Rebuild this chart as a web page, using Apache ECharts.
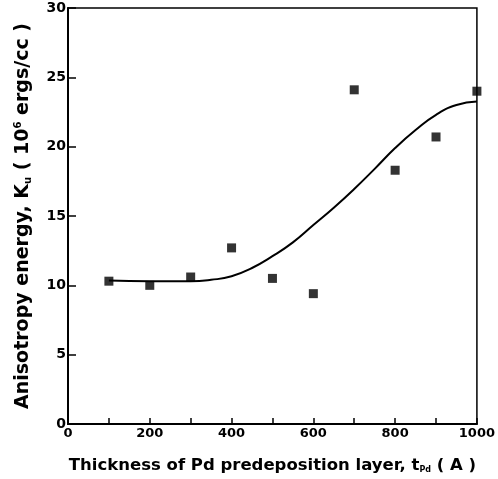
<!DOCTYPE html>
<html><head><meta charset="utf-8">
<script src="https://cdn.jsdelivr.net/npm/echarts@6/dist/echarts.min.js"></script>
<style>html,body{margin:0;padding:0;background:#fff}#c{width:498px;height:479px}</style>
</head><body><div id="c"></div>
<script>
const thickness = [100, 200, 300, 400, 500, 600, 700, 800, 900, 1000];
const anisotropy = [10.3, 10.0, 10.6, 12.7, 10.5, 9.4, 24.1, 18.3, 20.7, 24.0];
const fitX = [100, 200, 300, 350, 400, 450, 500, 550, 600, 650, 700, 750, 800, 850, 900, 950, 1000];
const fitY = [10.35, 10.3, 10.3, 10.4, 10.65, 11.25, 12.1, 13.1, 14.35, 15.6, 16.95, 18.4, 19.9, 21.2, 22.3, 23.0, 23.25];
const xLabels = [0, 200, 400, 600, 800, 1000];
const yLabels = [0, 5, 10, 15, 20, 25, 30];

const chart = echarts.init(document.getElementById('c'));
const font = 'DejaVu Sans';
chart.setOption({
  animation: false,
  grid: {left: 68, right: 21, top: 8, bottom: 55, show: true, borderColor: '#000', borderWidth: 1.5},
  xAxis: {
    type: 'value', min: 0, max: 1000, interval: 100,
    axisLine: {lineStyle: {color: '#000', width: 2}},
    axisTick: {inside: true, length: 6, lineStyle: {color: '#000', width: 1.5}},
    splitLine: {show: false},
    axisLabel: {color: '#000', fontFamily: font, fontWeight: 'bold', fontSize: 13, margin: 3,
      formatter: v => xLabels.indexOf(v) >= 0 ? String(v) : ''},
    name: 'Thickness of Pd predeposition layer, {i|t}{s|Pd} ( A )',
    nameLocation: 'middle', nameGap: 33,
    nameTextStyle: {color: '#000', fontFamily: font, fontWeight: 'bold', fontSize: 16.5,
      rich: {i: {fontFamily: font, fontWeight: 'bold', fontSize: 16.5, color: '#000'},
             s: {fontFamily: font, fontWeight: 'bold', fontSize: 8, color: '#000', padding: [8, 0, 0, 0]}}}
  },
  yAxis: {
    type: 'value', min: 0, max: 30, interval: 5,
    axisLine: {lineStyle: {color: '#000', width: 2}},
    axisTick: {inside: true, length: 8, lineStyle: {color: '#000', width: 1.5}},
    splitLine: {show: false},
    axisLabel: {color: '#000', fontFamily: font, fontWeight: 'bold', fontSize: 14, margin: 2,
      formatter: v => yLabels.indexOf(v) >= 0 ? String(v) : ''},
    name: 'Anisotropy energy, K{s|u} ( 10{p|6} ergs/cc )',
    nameLocation: 'middle', nameGap: 35,
    nameTextStyle: {color: '#000', fontFamily: font, fontWeight: 'bold', fontSize: 19,
      rich: {s: {fontFamily: font, fontWeight: 'bold', fontSize: 10, color: '#000', padding: [10, 0, 0, 0]},
             p: {fontFamily: font, fontWeight: 'bold', fontSize: 10, color: '#000', padding: [0, 0, 10, 0]}}}
  },
  series: [
    {type: 'line', data: fitX.map((x, i) => [x, fitY[i]]), smooth: 0.5, showSymbol: false,
     lineStyle: {color: '#000', width: 2}},
    {type: 'scatter', data: thickness.map((x, i) => [x, anisotropy[i]]), symbol: 'rect', symbolSize: 9,
     itemStyle: {color: '#000'}}
  ]
});
</script></body></html>
